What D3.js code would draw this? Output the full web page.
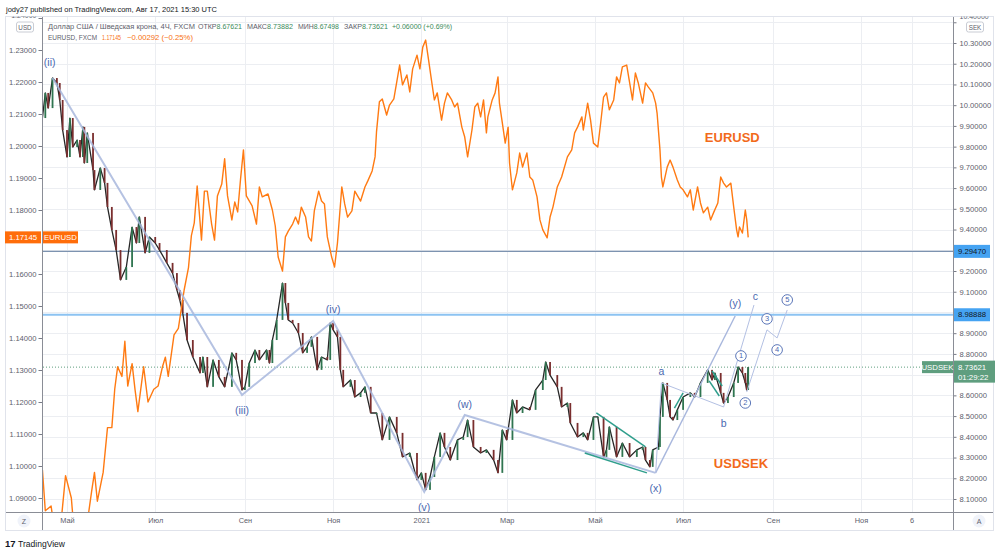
<!DOCTYPE html>
<html><head><meta charset="utf-8">
<script src="https://cdn.jsdelivr.net/npm/d3@7"></script>
<style>body{margin:0;background:#fff}svg{display:block}text{font-family:"Liberation Sans",Arial,sans-serif}</style>
</head><body><svg id="c" width="1000" height="553"></svg>
<script>
// ---------------- DATA ----------------
const usdsek = [["2020-04-14",9.938],["2020-04-16",10.059],["2020-04-18",9.986],["2020-04-21",10.131],["2020-04-24",10.107],["2020-04-26",10.025],["2020-04-28",9.880],["2020-05-01",9.750],["2020-05-03",9.938],["2020-05-05",9.798],["2020-05-08",9.832],["2020-05-10",9.750],["2020-05-12",9.895],["2020-05-13",9.721],["2020-05-15",9.866],["2020-05-19",9.687],["2020-05-20",9.591],["2020-05-24",9.697],["2020-05-27",9.625],["2020-05-29",9.509],["2020-06-01",9.398],["2020-06-04",9.301],["2020-06-07",9.157],["2020-06-11",9.219],["2020-06-15",9.412],["2020-06-18",9.335],["2020-06-20",9.461],["2020-06-24",9.287],["2020-06-27",9.364],["2020-07-01",9.335],["2020-07-04",9.301],["2020-07-09",9.239],["2020-07-13",9.190],["2020-07-16",9.108],["2020-07-18",9.060],["2020-07-20",8.998],["2020-07-23",8.867],["2020-07-27",8.785],["2020-08-01",8.708],["2020-08-03",8.785],["2020-08-06",8.641],["2020-08-10",8.771],["2020-08-14",8.689],["2020-08-18",8.641],["2020-08-23",8.805],["2020-08-26",8.771],["2020-08-30",8.626],["2020-09-01",8.641],["2020-09-04",8.756],["2020-09-08",8.819],["2020-09-11",8.771],["2020-09-16",8.819],["2020-09-18",8.756],["2020-09-20",8.867],["2020-09-23",8.964],["2020-09-27",9.142],["2020-09-29",9.046],["2020-10-01",8.964],["2020-10-04",8.949],["2020-10-08",8.901],["2020-10-11",8.805],["2020-10-14",8.834],["2020-10-17",8.882],["2020-10-21",8.723],["2020-10-24",8.785],["2020-10-28",8.771],["2020-10-30",8.949],["2020-11-01",8.916],["2020-11-04",8.882],["2020-11-06",8.723],["2020-11-08",8.641],["2020-11-13",8.674],["2020-11-16",8.592],["2020-11-20",8.612],["2020-11-23",8.641],["2020-11-27",8.515],["2020-12-01",8.515],["2020-12-05",8.385],["2020-12-10",8.496],["2020-12-15",8.419],["2020-12-19",8.303],["2020-12-24",8.322],["2020-12-29",8.192],["2021-01-01",8.226],["2021-01-04",8.144],["2021-01-07",8.206],["2021-01-10",8.303],["2021-01-14",8.419],["2021-01-17",8.351],["2021-01-21",8.288],["2021-01-26",8.385],["2021-01-30",8.399],["2021-02-02",8.481],["2021-02-06",8.351],["2021-02-11",8.322],["2021-02-15",8.337],["2021-02-20",8.288],["2021-02-23",8.226],["2021-02-26",8.433],["2021-03-01",8.385],["2021-03-05",8.578],["2021-03-08",8.515],["2021-03-12",8.544],["2021-03-17",8.530],["2021-03-21",8.626],["2021-03-26",8.674],["2021-03-28",8.761],["2021-03-31",8.698],["2021-04-05",8.641],["2021-04-08",8.544],["2021-04-12",8.563],["2021-04-14",8.467],["2021-04-19",8.399],["2021-04-23",8.419],["2021-04-26",8.385],["2021-04-30",8.496],["2021-05-03",8.496],["2021-05-07",8.303],["2021-05-09",8.337],["2021-05-11",8.448],["2021-05-16",8.303],["2021-05-20",8.370],["2021-05-25",8.303],["2021-05-30",8.337],["2021-06-03",8.351],["2021-06-05",8.288],["2021-06-08",8.255],["2021-06-10",8.337],["2021-06-14",8.351],["2021-06-15",8.496],["2021-06-17",8.660],["2021-06-20",8.578],["2021-06-22",8.496],["2021-06-24",8.481],["2021-06-27",8.530],["2021-07-01",8.592],["2021-07-06",8.612],["2021-07-09",8.592],["2021-07-13",8.660],["2021-07-18",8.723],["2021-07-21",8.674],["2021-07-23",8.708],["2021-07-27",8.612],["2021-07-29",8.563],["2021-08-01",8.592],["2021-08-05",8.660],["2021-08-08",8.737],["2021-08-11",8.708],["2021-08-13",8.660],["2021-08-14",8.626],["2021-08-15",8.73621]];

const eurusd = [["2020-04-14",1.0988],["2020-04-16",1.086],["2020-04-20",1.0875],["2020-04-23",1.078],["2020-04-27",1.083],["2020-04-30",1.097],["2020-05-04",1.090],["2020-05-06",1.079],["2020-05-08",1.085],["2020-05-12",1.083],["2020-05-14",1.079],["2020-05-18",1.092],["2020-05-20",1.098],["2020-05-22",1.089],["2020-05-26",1.098],["2020-05-29",1.112],["2020-06-01",1.112],["2020-06-03",1.124],["2020-06-05",1.131],["2020-06-08",1.128],["2020-06-10",1.139],["2020-06-12",1.125],["2020-06-15",1.132],["2020-06-17",1.124],["2020-06-19",1.117],["2020-06-23",1.131],["2020-06-26",1.120],["2020-06-30",1.124],["2020-07-03",1.125],["2020-07-06",1.131],["2020-07-08",1.134],["2020-07-10",1.128],["2020-07-14",1.141],["2020-07-17",1.143],["2020-07-21",1.155],["2020-07-24",1.162],["2020-07-26",1.172],["2020-07-28",1.176],["2020-07-30",1.1875],["2020-08-02",1.1706],["2020-08-04",1.1859],["2020-08-06",1.1859],["2020-08-09",1.1756],["2020-08-11",1.1706],["2020-08-13",1.1844],["2020-08-16",1.1881],["2020-08-18",1.1960],["2020-08-20",1.1844],["2020-08-23",1.1769],["2020-08-25",1.1825],["2020-08-27",1.1794],["2020-08-29",1.1897],["2020-08-31",1.1988],["2020-09-02",1.1844],["2020-09-06",1.1813],["2020-09-09",1.1756],["2020-09-11",1.1872],["2020-09-13",1.1841],["2020-09-17",1.1850],["2020-09-20",1.1800],["2020-09-22",1.1750],["2020-09-24",1.1653],["2020-09-27",1.1609],["2020-09-29",1.1716],["2020-10-01",1.1734],["2020-10-04",1.1756],["2020-10-06",1.1778],["2020-10-08",1.1756],["2020-10-10",1.1809],["2020-10-13",1.1778],["2020-10-15",1.1716],["2020-10-17",1.1703],["2020-10-19",1.1797],["2020-10-22",1.1859],["2020-10-24",1.1828],["2020-10-26",1.1819],["2020-10-28",1.1716],["2020-10-31",1.1653],["2020-11-02",1.1622],["2020-11-04",1.1697],["2020-11-07",1.1872],["2020-11-09",1.1819],["2020-11-11",1.1778],["2020-11-14",1.1797],["2020-11-16",1.1859],["2020-11-20",1.1828],["2020-11-23",1.1872],["2020-11-25",1.1891],["2020-11-28",1.1922],["2020-11-30",1.1966],["2020-12-01",1.2044],["2020-12-03",1.2138],["2020-12-05",1.2147],["2020-12-08",1.2097],["2020-12-10",1.2128],["2020-12-13",1.2147],["2020-12-17",1.2253],["2020-12-19",1.2191],["2020-12-22",1.2222],["2020-12-24",1.2169],["2020-12-26",1.2241],["2020-12-29",1.2284],["2020-12-31",1.2241],["2021-01-02",1.2309],["2021-01-04",1.2331],["2021-01-06",1.2269],["2021-01-08",1.2206],["2021-01-10",1.2144],["2021-01-12",1.2166],["2021-01-15",1.2081],["2021-01-17",1.2134],["2021-01-19",1.2166],["2021-01-22",1.2144],["2021-01-24",1.2122],["2021-01-26",1.2134],["2021-01-29",1.2059],["2021-01-31",1.2028],["2021-02-02",1.1966],["2021-02-05",1.2050],["2021-02-07",1.2122],["2021-02-09",1.2134],["2021-02-11",1.2091],["2021-02-13",1.2144],["2021-02-15",1.2041],["2021-02-16",1.2091],["2021-02-19",1.2144],["2021-02-21",1.2166],["2021-02-23",1.2216],["2021-02-24",1.2134],["2021-02-26",1.2072],["2021-02-28",1.2009],["2021-03-02",1.2059],["2021-03-03",1.1947],["2021-03-04",1.1903],["2021-03-05",1.1863],["2021-03-08",1.1916],["2021-03-10",1.1978],["2021-03-12",1.1934],["2021-03-15",1.1978],["2021-03-17",1.1903],["2021-03-19",1.1894],["2021-03-22",1.1841],["2021-03-24",1.1769],["2021-03-26",1.1738],["2021-03-29",1.1713],["2021-03-31",1.1778],["2021-04-02",1.1809],["2021-04-05",1.1872],["2021-04-08",1.1903],["2021-04-12",1.1966],["2021-04-15",1.1988],["2021-04-17",1.2041],["2021-04-19",1.2059],["2021-04-22",1.2091],["2021-04-23",1.2050],["2021-04-26",1.2134],["2021-04-28",1.2081],["2021-04-30",1.2009],["2021-05-03",1.1997],["2021-05-05",1.2072],["2021-05-07",1.2153],["2021-05-09",1.2166],["2021-05-11",1.2113],["2021-05-14",1.2144],["2021-05-16",1.2216],["2021-05-18",1.2197],["2021-05-20",1.2247],["2021-05-23",1.2253],["2021-05-27",1.2144],["2021-05-29",1.2228],["2021-05-31",1.2197],["2021-06-03",1.2134],["2021-06-05",1.2197],["2021-06-07",1.2184],["2021-06-10",1.2166],["2021-06-12",1.2134],["2021-06-13",1.2103],["2021-06-15",1.1988],["2021-06-16",1.1903],["2021-06-17",1.1872],["2021-06-20",1.1934],["2021-06-22",1.1956],["2021-06-24",1.1934],["2021-06-27",1.1894],["2021-06-29",1.1872],["2021-07-01",1.1863],["2021-07-04",1.1841],["2021-07-06",1.1863],["2021-07-08",1.1800],["2021-07-11",1.1872],["2021-07-13",1.1822],["2021-07-15",1.1791],["2021-07-18",1.1809],["2021-07-20",1.1769],["2021-07-22",1.1791],["2021-07-25",1.1822],["2021-07-27",1.1903],["2021-07-29",1.1884],["2021-07-31",1.1872],["2021-08-03",1.1884],["2021-08-05",1.1809],["2021-08-07",1.1738],["2021-08-08",1.1716],["2021-08-09",1.1747],["2021-08-11",1.1728],["2021-08-13",1.1800],["2021-08-14",1.1769],["2021-08-15",1.17145]];

const leftTicks = [1.09,1.10,1.11,1.12,1.13,1.14,1.15,1.16,1.18,1.19,1.20,1.21,1.22,1.23,1.24];
const rightTicks = [8.1,8.2,8.3,8.4,8.5,8.6,8.7,8.8,8.9,9.0,9.1,9.2,9.3,9.4,9.5,9.6,9.7,9.8,9.9,10.0,10.1,10.2,10.3,10.4];
const rightLabelTicks = [8.1,8.2,8.3,8.4,8.5,8.6,8.8,8.9,9.1,9.2,9.4,9.5,9.6,9.7,9.8,9.9,10.0,10.1,10.2,10.3,10.4];
const timeTickDates = ["2020-05-01","2020-07-01","2020-09-01","2020-11-01","2021-01-01","2021-03-01","2021-05-01","2021-07-01","2021-09-01","2021-11-01","2021-12-06"];
const timeTickLabels = ["Май","Июл","Сен","Ноя","2021","Мар","Май","Июл","Сен","Ноя","6"];

const hLevels = [9.29470, 8.98888];
const lastUsdsek = 8.73621, lastEurusd = 1.17145;

// Elliott wave drawings (USDSEK price scale)
const waveMain = [["2020-04-21",10.131],["2020-08-30",8.602],["2020-11-01",8.959],["2021-01-03",8.134],["2021-01-31",8.505],["2021-06-12",8.226]];
const waveY = [["2021-06-12",8.226],["2021-08-06",8.983]];
const waveABC = [["2021-06-12",8.226],["2021-06-16",8.660],["2021-07-29",8.544],["2021-08-19",9.036]];
const wave15 = [["2021-08-14",8.616],["2021-08-28",8.916],["2021-09-04",8.877],["2021-09-11",9.012]];
const tealLines = [
  [["2021-05-02",8.515],["2021-06-05",8.351]],
  [["2021-04-24",8.322],["2021-06-06",8.226]],
  [["2021-06-25",8.539],["2021-07-01",8.612]],
  [["2021-07-21",8.718],["2021-07-28",8.645]],
  [["2021-07-19",8.670],["2021-07-26",8.597]]
];
const waveLabels = [
  ["(ii)","2020-04-19",10.131,-16],["(iii)","2020-08-30",8.602,15],["(iv)","2020-11-01",8.959,-12],
  ["(v)","2021-01-03",8.134,15],["(w)","2021-01-31",8.505,-11],["(x)","2021-06-12",8.226,15],
  ["(y)","2021-08-06",8.983,-13],["a","2021-06-16",8.660,-12],["b","2021-07-29",8.544,16],["c","2021-08-20",9.036,-9]
];
const circleLabels = [["1","2021-08-10",8.737,-11],["2","2021-08-13",8.626,13],["3","2021-08-28",8.916,-11],["4","2021-09-04",8.877,12],["5","2021-09-11",9.012,-10]];

const legend1 = [["","Доллар США / Шведская крона, 4Ч, FXCM",48,147],["ОТКР","8.67621",198,44],["МАКС","8.73882",247,46],["МИН","8.67498",298,41],["ЗАКР","8.73621",344,44],["","+0.06000 (+0.69%)",392,60]];
const legend2 = [["EURUSD, FXCM",48,49,"g"],["1.17145",102,19,"o"],["−0.00292 (−0.25%)",127,66,"o"]];

// ---------------- CHART ----------------
const parse = d3.timeParse("%Y-%m-%d");
const X0 = 43, X1 = 953, Y0 = 17, Y1 = 512;
const x = d3.scaleTime().domain([parse("2020-05-01"), parse("2021-11-01")]).range([67, 861]);
const yL = d3.scaleLinear().domain([1.09, 1.23]).range([498, 50]);
const yR = d3.scaleLinear().domain([8.1, 10.3]).range([499, 43]);

const GRAY = "#5d606b", GREEN = "#3b8a5a", ORANGE = "#f7700f", WAVE = "#4a68b0";
const svg = d3.select("#c");
svg.append("rect").attr("width",1000).attr("height",553).attr("fill","#fff");

const defs = svg.append("defs");
defs.append("clipPath").attr("id","plot").append("rect").attr("x",X0).attr("y",Y0).attr("width",X1-X0).attr("height",Y1-Y0);
defs.append("clipPath").attr("id","panel").append("rect").attr("x",0).attr("y",16.5).attr("width",1000).attr("height",520);

// panel border
svg.append("rect").attr("x",5.5).attr("y",16.5).attr("width",988).attr("height",514).attr("fill","none").attr("stroke","#e0e3eb");

const grid = svg.append("g").attr("clip-path","url(#plot)");
grid.selectAll(".gv").data(timeTickDates).join("line")
  .attr("x1",d=>Math.round(x(parse(d)))+0.5).attr("x2",d=>Math.round(x(parse(d)))+0.5)
  .attr("y1",Y0).attr("y2",Y1).attr("stroke","#eceef2");
grid.selectAll(".gh").data(rightTicks).join("line")
  .attr("x1",X0).attr("x2",X1).attr("y1",d=>Math.round(yR(d))+0.5).attr("y2",d=>Math.round(yR(d))+0.5)
  .attr("stroke","#eceef2");

const plot = svg.append("g").attr("clip-path","url(#plot)");
// horizontal levels
plot.append("line").attr("x1",X0).attr("x2",X1).attr("y1",yR(hLevels[0])).attr("y2",yR(hLevels[0]))
  .attr("stroke","#7d93b0").attr("stroke-width",1.2);
plot.append("line").attr("x1",X0).attr("x2",X1).attr("y1",yR(hLevels[1])).attr("y2",yR(hLevels[1]))
  .attr("stroke","#8cc3f2").attr("stroke-width",2.2);
// last price dotted
plot.append("line").attr("x1",X0).attr("x2",X1).attr("y1",yR(lastUsdsek)).attr("y2",yR(lastUsdsek))
  .attr("stroke","#5f9e7f").attr("stroke-width",1).attr("stroke-dasharray","1,2");

// USDSEK candles
const us = usdsek.map(d=>({date:parse(d[0]), c:d[1]}));
plot.append("path").datum(us).attr("fill","none").attr("stroke","#262626").attr("stroke-width",1.3)
  .attr("stroke-linejoin","round").attr("d", d3.line().x(d=>x(d.date)).y(d=>yR(d.c)));
const candles = us.slice(1).map((d,i)=>({date:d.date, o:us[i].c, c:d.c}));
plot.selectAll(".cd").data(candles).join("rect")
  .attr("x",d=>x(d.date)-0.9).attr("width",1.8)
  .attr("y",d=>yR(Math.max(d.o,d.c))).attr("height",d=>Math.max(1.2, Math.abs(yR(d.o)-yR(d.c))))
  .attr("fill",d=>d.c>=d.o?"#2f7550":"#7a2e2e");

// EURUSD line
const eu = eurusd.map(d=>({date:parse(d[0]), v:d[1]}));
plot.append("path").datum(eu).attr("fill","none").attr("stroke","#ff7a12").attr("stroke-width",1.4)
  .attr("stroke-linejoin","round").attr("d", d3.line().x(d=>x(d.date)).y(d=>yL(d.v)));

// wave drawings
const wl = d3.line().x(d=>x(parse(d[0]))).y(d=>yR(d[1]));
const draw = svg.append("g").attr("clip-path","url(#plot)");
draw.append("path").attr("d",wl(waveMain)).attr("fill","none").attr("stroke","#a8b7dd").attr("stroke-width",2).attr("opacity",0.85);
draw.append("path").attr("d",wl(waveY)).attr("fill","none").attr("stroke","#a8b7dd").attr("stroke-width",1.4);
draw.append("path").attr("d",wl(waveABC)).attr("fill","none").attr("stroke","#b3c0e3").attr("stroke-width",1);
draw.append("path").attr("d",wl(wave15)).attr("fill","none").attr("stroke","#b3c0e3").attr("stroke-width",1);
tealLines.forEach(t=>draw.append("path").attr("d",wl(t)).attr("fill","none").attr("stroke","#2f9e8c").attr("stroke-width",1.5));

draw.selectAll(".wlab").data(waveLabels).join("text")
  .attr("x",d=>x(parse(d[1]))).attr("y",d=>yR(d[2])+d[3]).attr("text-anchor","middle").attr("dominant-baseline","central")
  .attr("font-size",10.5).attr("fill",WAVE).text(d=>d[0]);
const cg = draw.selectAll(".clab").data(circleLabels).join("g")
  .attr("transform",d=>`translate(${x(parse(d[1]))},${yR(d[2])+d[3]})`);
cg.append("circle").attr("r",5.3).attr("fill","#fff").attr("stroke",WAVE).attr("stroke-width",0.9);
cg.append("text").attr("text-anchor","middle").attr("dominant-baseline","central").attr("font-size",7.5).attr("fill",WAVE).text(d=>d[0]);

// series name labels
draw.append("text").attr("x",x(parse("2021-08-04"))).attr("y",yL(1.2028)).attr("text-anchor","middle").attr("dominant-baseline","central")
  .attr("font-size",13).attr("font-weight","bold").attr("fill","#f26a1b").attr("font-family","'Open Sans',sans-serif").text("EURUSD");
draw.append("text").attr("x",x(parse("2021-08-10"))).attr("y",yR(8.269)).attr("text-anchor","middle").attr("dominant-baseline","central")
  .attr("font-size",13).attr("font-weight","bold").attr("fill","#f26a1b").attr("font-family","'Open Sans',sans-serif").text("USDSEK");

// axes
const fmt = d3.format(".5f");
const ax = svg.append("g").attr("clip-path","url(#panel)");
const gl = ax.append("g").attr("transform",`translate(${X0-0.5},0)`)
  .call(d3.axisLeft(yL).tickValues(leftTicks).tickFormat(fmt).tickSize(4).tickPadding(2));
const gr = ax.append("g").attr("transform",`translate(${X1+0.5},0)`)
  .call(d3.axisRight(yR).tickValues(rightLabelTicks).tickFormat(fmt).tickSize(3).tickPadding(3));
const gb = ax.append("g").attr("transform",`translate(0,${Y1})`)
  .call(d3.axisBottom(x).tickValues(timeTickDates.map(parse)).tickFormat((d,i)=>timeTickLabels[i]).tickSize(0).tickPadding(6));
[gl,gr,gb].forEach(g=>{g.select(".domain").remove(); g.selectAll("line").attr("stroke","#787b86");
  g.selectAll("text").attr("fill",GRAY).attr("font-size",7.6).attr("font-family","'Liberation Sans',Arial,sans-serif");});
gb.selectAll("text").attr("font-size",7.4);
// top tick labels: only their lower part shows above the currency boxes, as in the original
gl.selectAll(".tick").filter(d=>d>1.235).select("text").attr("font-size",7).attr("dy","-0.05em");
gr.selectAll(".tick").filter(d=>d>10.35).select("text").attr("font-size",7).attr("dy","-0.6em");

// frame lines
svg.append("line").attr("x1",X0-0.5).attr("x2",X0-0.5).attr("y1",17).attr("y2",530).attr("stroke","#8a8d96");
svg.append("line").attr("x1",X1+0.5).attr("x2",X1+0.5).attr("y1",17).attr("y2",530).attr("stroke","#8a8d96");
svg.append("line").attr("x1",6).attr("x2",993).attr("y1",Y1+0.5).attr("y2",Y1+0.5).attr("stroke","#8a8d96");

// currency boxes
[["USD",16,21.5],["SEK",966,21.5]].forEach(b=>{
  svg.append("rect").attr("x",b[1]+0.5).attr("y",b[2]+0.5).attr("width",17).attr("height",10).attr("rx",2).attr("fill","#fff").attr("stroke","#c9ccd4");
  svg.append("text").attr("x",b[1]+9).attr("y",b[2]+5.5).attr("text-anchor","middle").attr("dominant-baseline","central").attr("font-size",6.3).attr("fill",GRAY).text(b[0]);
});

// badges
function badge(xp,yc,w,h,fill,txt,tcol){
  svg.append("rect").attr("x",xp).attr("y",yc-h/2).attr("width",w).attr("height",h).attr("fill",fill);
  svg.append("text").attr("x",xp+w/2).attr("y",yc).attr("text-anchor","middle").attr("dominant-baseline","central")
    .attr("font-size",7.8).attr("fill",tcol).text(txt);
}
badge(5, yL(lastEurusd), 36, 12, "#ff6d0a", fmt(lastEurusd), "#fff");
badge(43, yL(lastEurusd), 35, 12, "#ff6d0a", "EURUSD", "#fff");
badge(X1+1, yR(hLevels[0]), 36, 13, "#45a3f2", fmt(hLevels[0]), "#131722");
badge(X1+1, yR(hLevels[1]), 36, 13, "#45a3f2", fmt(hLevels[1]), "#131722");
badge(922, yR(lastUsdsek), 31, 12, "#5f9e7f", "USDSEK", "#fff");
svg.append("rect").attr("x",X1+1).attr("y",yR(lastUsdsek)-6.5).attr("width",41).attr("height",22).attr("fill","#5f9e7f");
svg.append("text").attr("x",X1+5).attr("y",yR(lastUsdsek)).attr("dominant-baseline","central").attr("font-size",7.8).attr("fill","#fff").text(fmt(lastUsdsek));
svg.append("text").attr("x",X1+5).attr("y",yR(lastUsdsek)+10).attr("dominant-baseline","central").attr("font-size",7.8).attr("fill","#fff").text("01:29:22");

// Z / A buttons
[["Z",24],["A",979]].forEach(b=>{
  svg.append("circle").attr("cx",b[1]).attr("cy",521).attr("r",6.5).attr("fill","#f0f3fa");
  svg.append("text").attr("x",b[1]).attr("y",521).attr("text-anchor","middle").attr("dominant-baseline","central").attr("font-size",7).attr("fill",GRAY).text(b[0]);
});

// header
svg.append("text").attr("x",6).attr("y",12).attr("font-size",8).attr("fill","#131722")
  .attr("textLength",211).attr("lengthAdjust","spacingAndGlyphs").text("jody27 published on TradingView.com, Авг 17, 2021 15:30 UTC");

// legends
legend1.forEach(p=>{
  const t = svg.append("text").attr("x",p[2]).attr("y",29).attr("font-size",7.4).attr("textLength",p[3]).attr("lengthAdjust","spacingAndGlyphs");
  if(p[0]) t.append("tspan").attr("fill",GRAY).text(p[0]);
  t.append("tspan").attr("fill", p[0]||p[1].startsWith("+")?GREEN:GRAY).text(p[1]);
});
legend2.forEach(p=>{
  svg.append("text").attr("x",p[1]).attr("y",40).attr("font-size",7.2).attr("textLength",p[2]).attr("lengthAdjust","spacingAndGlyphs")
    .attr("fill",p[3]==="o"?ORANGE:GRAY).text(p[0]);
});

// TradingView footer
svg.append("text").attr("x",5).attr("y",547).attr("font-size",9.5).attr("font-weight","900").attr("fill","#131722").text("17");
svg.append("text").attr("x",18).attr("y",547).attr("font-size",8.5).attr("fill","#131722").attr("textLength",47).attr("lengthAdjust","spacingAndGlyphs").text("TradingView");
</script></body></html>
